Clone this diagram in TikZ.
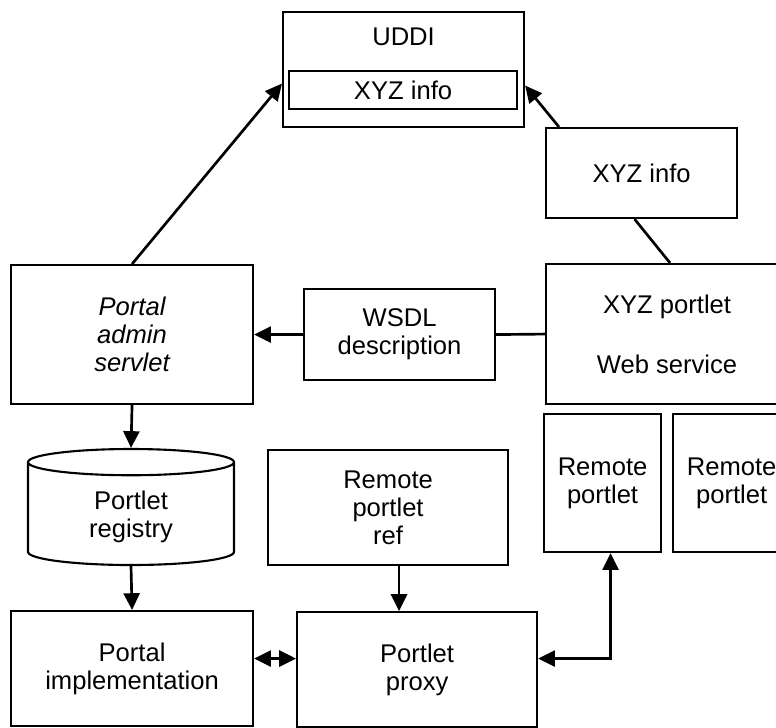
\documentclass[tikz,border=0pt]{standalone}
\usepackage{fontspec}
\setmainfont{Liberation Sans}
\usetikzlibrary{positioning}
\usetikzlibrary{calc}
\usetikzlibrary{shapes.geometric}
\usetikzlibrary{arrows.meta}
\tikzset{
    % Plain filled triangles, as on every connector here
    >={Triangle[length=4.2mm, width=4mm]},
%
    % A plain box with its text centred, placed by its top left corner
    block/.style={draw, line width=1.5pt, align=center, anchor=north west},
%
    % The registry is drawn as a disk
    disk/.style={
        draw, line width=1.5pt, cylinder, shape border rotate=90,
        shape aspect=0.26, align=center},
%
    % Connectors are a little heavier than the boxes
    link/.style={line width=1.9pt}}

\begin{document}
\begin{tikzpicture}[x=0.25mm, y=-0.25mm]
\fontsize{18.2}{20}\selectfont
\useasboundingbox (0,0) rectangle (776,727);
\clip (0,0) rectangle (776,727);

% UDDI registry with its entry
\node [block, minimum width=60.25mm, minimum height=28.75mm] (uddi) at (282,11) {};
\node [anchor=base] (uddi title) at ($(uddi.north)+(0,34)$) {UDDI};
\node [block, minimum width=57mm, minimum height=9.5mm]
    (uddi info) at (288,70) {XYZ info};

% Producer side
\node [block, minimum width=47.75mm, minimum height=22.5mm]
    (info) at (545,127) {XYZ info};
\node [block, minimum width=60.5mm, minimum height=35mm]
    (portlet) at (545,263) {XYZ portlet\\[8mm]Web service};
\node [block, minimum width=29.25mm, minimum height=34.5mm]
    (remote a) at (543,413) {Remote\\portlet};
\node [block, minimum width=29.25mm, minimum height=34.5mm, anchor=west,
    right=2.5mm of remote a] (remote b) {Remote\\portlet};

% Consumer side
\node [block, minimum width=60.5mm, minimum height=34.75mm, font=\itshape]
    (servlet) at (10,264) {Portal\\admin\\servlet};
\node [block, minimum width=47.75mm, minimum height=22.75mm]
    (wsdl) at (303,288) {WSDL\\description};
\node [disk, minimum width=51.5mm, minimum height=29mm, anchor=shape center]
    (registry) at (131,507) {Portlet\\registry};
\node [block, minimum width=60mm, minimum height=28.75mm]
    (ref) at (267,449) {Remote\\portlet\\ref};
\node [block, minimum width=60.5mm, minimum height=28.75mm]
    (impl) at (10,610) {Portal\\implementation};
\node [block, minimum width=60mm, minimum height=28.75mm]
    (proxy) at (296,611) {Portlet\\proxy};

% Publishing and finding
\draw [link, ->] (servlet.north) -- ($(uddi.west)+(0,14)$);
\draw [link, ->] ($(info.north west)+(14,0)$) -- ($(uddi.east)+(0,16)$);
\draw [link] ($(info.south)+(-7,0)$) -- ($(portlet.north)+(3,0)$);
\draw [link] (portlet.west) -- (wsdl.east);
\draw [link, ->] (wsdl.west) -- (servlet.east);

% Registration and invocation
\draw [link, ->] (servlet.south) -- (registry.north);
\draw [link, ->] (registry.south) -- (impl.north);
\draw [link, <->] ($(impl.east)+(0,-10)$) coordinate (pair) -- (proxy.west |- pair);
\draw [link, ->] ($(ref.south)+(11,0)$) coordinate (drop) -- (drop |- proxy.north);
\draw [link, <->] ($(proxy.east)+(0,-11)$) -| ($(remote a.south)+(8,0)$);

\end{tikzpicture}
\end{document}
